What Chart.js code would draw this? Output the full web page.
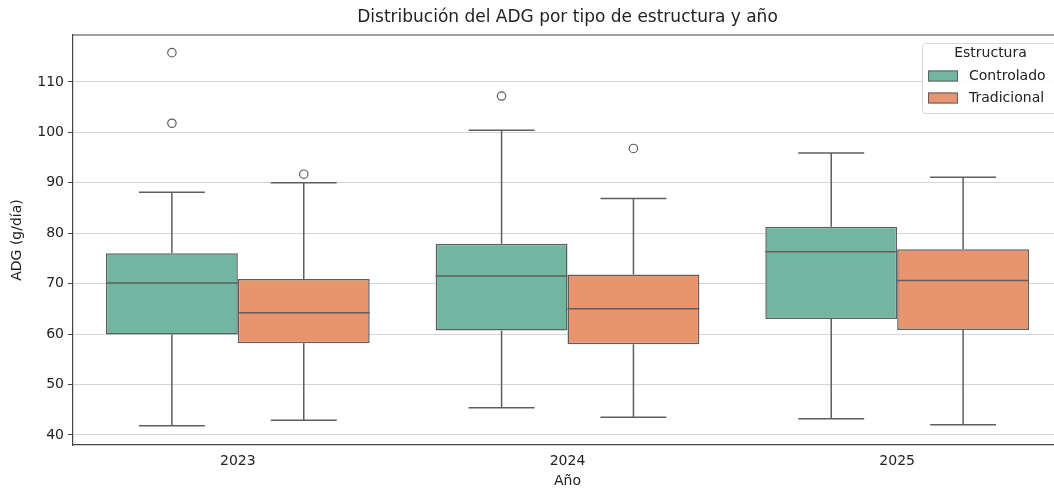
<!DOCTYPE html>
<html>
<head>
<meta charset="utf-8">
<script src="https://cdn.jsdelivr.net/npm/chart.js@4"></script>
<style>
  html, body { margin: 0; padding: 0; background: #fff; overflow: hidden; }
  #wrap { width: 1062px; height: 490px; }
</style>
</head>
<body>
<div id="wrap"><canvas id="chart" width="1062" height="490"></canvas></div>
<script>
const years = ["2023", "2024", "2025"];
const yTicks = [40, 50, 60, 70, 80, 90, 100, 110];

// Controlado
const ctrlLow = [41.8, 45.4, 43.2];
const ctrlQ1 = [59.9, 60.7, 63.0];
const ctrlMedian = [70.1, 71.5, 76.3];
const ctrlQ3 = [76.0, 77.9, 81.3];
const ctrlHigh = [88.1, 100.4, 95.9];
const ctrlOutliers = [[115.8, 101.8], [107.2], []];

// Tradicional
const tradLow = [42.9, 43.5, 42.0];
const tradQ1 = [58.2, 58.0, 60.8];
const tradMedian = [64.2, 65.0, 70.6];
const tradQ3 = [70.9, 71.8, 76.8];
const tradHigh = [90.0, 86.9, 91.1];
const tradOutliers = [[91.7], [96.8], []];

const green = "#72b6a1";
const orange = "#e8956f";
const lineGray = "#5f5f5f";
const font = "'DejaVu Sans', sans-serif";

const stats = [
  { low: ctrlLow, median: ctrlMedian, high: ctrlHigh, outliers: ctrlOutliers },
  { low: tradLow, median: tradMedian, high: tradHigh, outliers: tradOutliers },
];

const boxExtras = {
  id: "boxExtras",
  afterDatasetsDraw(chart) {
    const { ctx, scales } = chart;
    const y = scales.y;
    ctx.save();
    ctx.strokeStyle = lineGray;
    ctx.lineWidth = 1.5;
    chart.data.datasets.forEach((ds, di) => {
      const meta = chart.getDatasetMeta(di);
      const s = stats[di];
      meta.data.forEach((bar, i) => {
        const cx = bar.x;
        const half = bar.width / 2;
        const [q1, q3] = ds.data[i];
        ctx.beginPath();
        // whiskers
        ctx.moveTo(cx, y.getPixelForValue(q3));
        ctx.lineTo(cx, y.getPixelForValue(s.high[i]));
        ctx.moveTo(cx, y.getPixelForValue(q1));
        ctx.lineTo(cx, y.getPixelForValue(s.low[i]));
        // caps
        ctx.moveTo(cx - half / 2, y.getPixelForValue(s.high[i]));
        ctx.lineTo(cx + half / 2, y.getPixelForValue(s.high[i]));
        ctx.moveTo(cx - half / 2, y.getPixelForValue(s.low[i]));
        ctx.lineTo(cx + half / 2, y.getPixelForValue(s.low[i]));
        // median
        ctx.moveTo(cx - half, y.getPixelForValue(s.median[i]));
        ctx.lineTo(cx + half, y.getPixelForValue(s.median[i]));
        ctx.stroke();
        // outliers
        ctx.lineWidth = 1.2;
        s.outliers[i].forEach((v) => {
          ctx.beginPath();
          ctx.arc(cx, y.getPixelForValue(v), 4.2, 0, Math.PI * 2);
          ctx.fillStyle = "#fff";
          ctx.fill();
          ctx.stroke();
        });
        ctx.lineWidth = 1.5;
      });
    });
    ctx.restore();
  },
  afterDraw(chart) {
    const { ctx, chartArea } = chart;
    ctx.save();
    // top frame line
    ctx.strokeStyle = "#444";
    ctx.lineWidth = 1.2;
    ctx.beginPath();
    ctx.moveTo(chartArea.left, chartArea.top);
    ctx.lineTo(chartArea.right, chartArea.top);
    ctx.stroke();

    // legend box
    const lx = 922, ly = 43, lw = 135, lh = 70;
    ctx.fillStyle = "rgba(255,255,255,0.85)";
    ctx.strokeStyle = "#d6d6d6";
    ctx.lineWidth = 1;
    ctx.beginPath();
    ctx.roundRect(lx + 0.5, ly + 0.5, lw, lh, 3);
    ctx.fill();
    ctx.stroke();
    ctx.fillStyle = "#222";
    ctx.font = "14px " + font;
    ctx.textAlign = "center";
    ctx.textBaseline = "middle";
    ctx.fillText("Estructura", lx + lw / 2 + 1, ly + 10);
    ctx.textAlign = "left";
    chart.data.datasets.forEach((ds, i) => {
      const yy = ly + 33 + i * 22;
      ctx.fillStyle = ds.backgroundColor;
      ctx.fillRect(928, yy - 5.5, 30, 11);
      ctx.strokeStyle = lineGray;
      ctx.lineWidth = 1;
      ctx.strokeRect(928.5, yy - 5, 29, 10);
      ctx.fillStyle = "#222";
      ctx.font = "14px " + font;
      ctx.fillText(ds.label, 969, yy);
    });
    ctx.restore();
  },
};

new Chart(document.getElementById("chart"), {
  type: "bar",
  data: {
    labels: years,
    datasets: [
      {
        label: "Controlado",
        data: years.map((_, i) => [ctrlQ1[i], ctrlQ3[i]]),
        backgroundColor: green,
        borderColor: lineGray,
        borderWidth: 1.5,
        borderSkipped: false,
        barPercentage: 1,
        categoryPercentage: 0.8,
      },
      {
        label: "Tradicional",
        data: years.map((_, i) => [tradQ1[i], tradQ3[i]]),
        backgroundColor: orange,
        borderColor: lineGray,
        borderWidth: 1.5,
        borderSkipped: false,
        barPercentage: 1,
        categoryPercentage: 0.8,
      },
    ],
  },
  options: {
    responsive: false,
    animation: false,
    layout: { padding: { left: 0, right: 0, top: 0, bottom: 0 } },
    plugins: {
      legend: { display: false },
      tooltip: { enabled: false },
      title: {
        display: true,
        fullSize: false,
        text: "Distribución del ADG por tipo de estructura y año",
        color: "#222",
        font: { family: font, size: 17, weight: "normal" },
        padding: { top: 7, bottom: 7.6 },
      },
    },
    scales: {
      x: {
        offset: true,
        grid: { display: false, drawTicks: true, tickLength: 5, tickColor: "#444", offset: false },
        border: { display: true, color: "#444", width: 1.2 },
        ticks: { color: "#222", font: { family: font, size: 14 }, padding: 3 },
        title: {
          display: true,
          text: "Año",
          color: "#222",
          font: { family: font, size: 14 },
          padding: { top: 0, bottom: 0 },
        },
        afterFit(scale) { scale.height = 45; },
      },
      y: {
        min: 38,
        max: 119.3,
        afterBuildTicks(scale) { scale.ticks = yTicks.map((v) => ({ value: v })); },
        grid: { color: "#d4d4d4", lineWidth: 1, tickLength: 5, tickColor: "#444", drawTicks: true },
        border: { display: true, color: "#444", width: 1.2 },
        ticks: { color: "#222", font: { family: font, size: 14 }, padding: 4 },
        title: {
          display: true,
          text: "ADG (g/día)",
          color: "#222",
          font: { family: font, size: 14 },
          padding: { top: 8.6, bottom: 0 },
        },
        afterFit(scale) { scale.width = 73; },
      },
    },
  },
  plugins: [boxExtras],
});
</script>
</body>
</html>
